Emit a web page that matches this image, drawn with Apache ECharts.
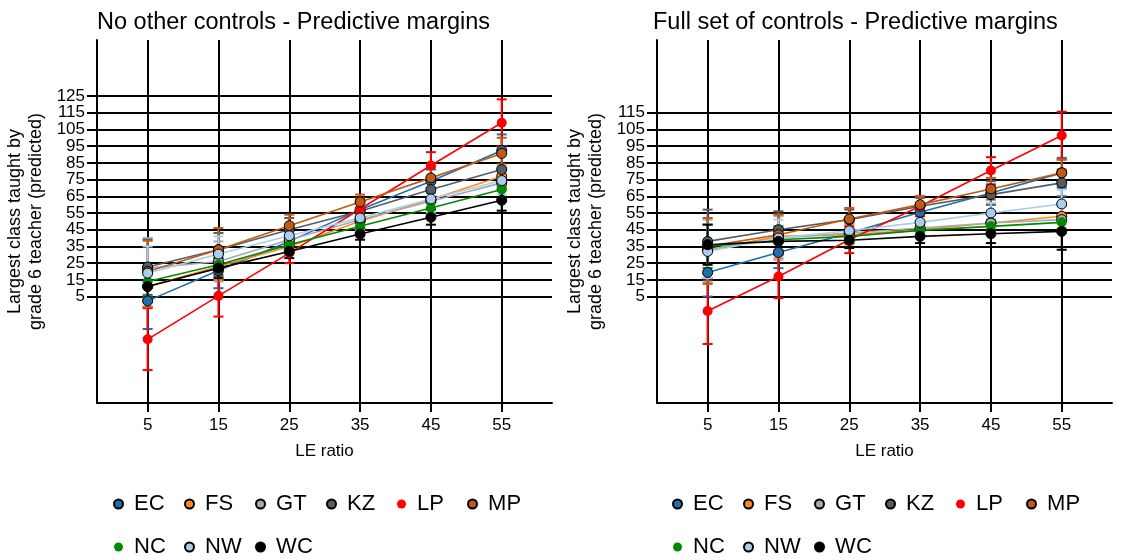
<!DOCTYPE html>
<html>
<head>
<meta charset="utf-8">
<script src="https://cdn.jsdelivr.net/npm/echarts@6/dist/echarts.min.js"></script>
<style>
  html, body { margin: 0; padding: 0; background: #fff; }
  #chart { width: 1123px; height: 560px; }
</style>
</head>
<body>
<div id="chart"></div>
<script>
// LE ratio values on the x axis
const leRatio = [5, 15, 25, 35, 45, 55];
const regions = ['EC', 'FS', 'GT', 'KZ', 'LP', 'MP', 'NC', 'NW', 'WC'];
const regionColors = ['#1f6fae', '#ff8a1c', '#a3abb3', '#545c66', '#ff0000', '#c25a12', '#008a00', '#a9cdeb', '#000000'];
const xTicks = [5, 15, 25, 35, 45, 55];
const yTicksLeft = [5, 15, 25, 35, 45, 55, 65, 75, 85, 95, 105, 115, 125];
const yTicksRight = [5, 15, 25, 35, 45, 55, 65, 75, 85, 95, 105, 115];

// No other controls: predicted margin, lower and upper CI (one row per region)
const noCtrlMean = [
  [2.4, 20.6, 38, 57, 74, 92.4],
  [11, 23, 35, 50, 63, 77],
  [22, 26, 39, 51, 62, 73],
  [22.7, 33, 45, 56, 69, 81],
  [-20.6, 5.4, 31, 57.4, 83.4, 109],
  [20, 33, 47.4, 61.6, 76, 90.6],
  [14, 24, 36, 47, 58, 69],
  [19, 30.4, 41.4, 52, 63.4, 74.4],
  [11, 22, 32, 42.4, 52.4, 62.6]
];
const noCtrlLo = [
  [-14.4, 10, 32, 52, 67, 82],
  [-1, 15, 30, 46, 58, 70],
  [4, 14, 31, 45, 55, 63],
  [6, 23, 38, 50, 62, 71],
  [-39, -7, 25, 51, 75, 95],
  [-1.4, 21, 41, 57, 70, 81],
  [5, 17, 31, 43, 54, 63],
  [3, 20, 35, 47, 58, 66],
  [2, 16, 28, 39, 48, 56.4]
];
const noCtrlHi = [
  [19, 31, 44, 62, 81, 102],
  [23, 31, 40, 54, 68, 84],
  [40, 38, 47, 57, 69, 83],
  [39, 43, 52, 62, 76, 91],
  [-2, 18, 37, 64, 91.4, 123],
  [38.4, 46, 54, 66, 82, 100],
  [23, 31, 41, 51, 62, 75],
  [35, 41, 48, 57, 69, 83],
  [20, 28, 36, 46, 57, 69]
];

// Full set of controls
const fullMean = [
  [19.4, 31.4, 43, 55.4, 67, 79],
  [33, 41, 42, 45, 49, 53],
  [33, 40, 43, 46, 49, 51],
  [38, 45, 51, 59, 66, 73],
  [-3.6, 17, 39, 59, 80.4, 101.4],
  [35, 42, 51.4, 60, 69.4, 79],
  [35, 39, 41, 44.6, 47, 49.4],
  [32, 40, 44.4, 49.4, 55, 60.4],
  [36, 38, 38.7, 41, 42.6, 44]
];
const fullLo = [
  [5, 22, 37, 50, 60, 70],
  [13, 28, 36, 41, 44, 46],
  [14, 27, 37, 42, 43, 43],
  [19, 33, 45, 54, 60, 65],
  [-23.4, 4, 31, 53, 72, 87],
  [12.6, 30, 45, 55, 63, 71],
  [22, 31, 37, 41, 43, 44],
  [16, 29, 39, 45, 49, 52],
  [24, 31, 34, 37, 37, 33]
];
const fullHi = [
  [34, 41, 49, 61, 74, 88],
  [52, 54, 48, 49, 54, 60],
  [51, 53, 49, 50, 55, 59],
  [57, 56, 57, 64, 72, 81],
  [16, 30, 47, 65, 88.4, 115.6],
  [52, 54, 58, 65, 76, 87],
  [48, 47, 45, 48, 51, 55],
  [48, 51, 50, 54, 61, 69],
  [48, 45, 43, 45, 48, 55]
];

const FONT = '"Liberation Sans", Arial, sans-serif';
const noBorder = ['LP', 'NC'];
const Y_MIN = -58.7, Y_MAX = 158.5;

function errorBar(params, api) {
    let x = api.value(0);
    let lo = api.coord([x, api.value(1)]);
    let hi = api.coord([x, api.value(2)]);
    let style = { stroke: api.visual('color'), lineWidth: 2 };
    let cap = 5;
    return {
        type: 'group',
        children: [
            { type: 'line', shape: { x1: lo[0], y1: lo[1], x2: hi[0], y2: hi[1] }, style: style },
            { type: 'line', shape: { x1: lo[0] - cap, y1: lo[1], x2: lo[0] + cap, y2: lo[1] }, style: style },
            { type: 'line', shape: { x1: hi[0] - cap, y1: hi[1], x2: hi[0] + cap, y2: hi[1] }, style: style }
        ]
    };
}

function buildSeries(mean, lo, hi, axisIdx) {
    let out = [];
    regions.forEach(function (name, i) {
        let bars = leRatio.map(function (x, j) { return [x, lo[i][j], hi[i][j]]; });
        out.push({
            name: name + ' CI ' + axisIdx,
            type: 'custom',
            xAxisIndex: axisIdx,
            yAxisIndex: axisIdx,
            renderItem: errorBar,
            itemStyle: { color: regionColors[i] },
            encode: { x: 0, y: [1, 2] },
            data: bars,
            z: 1,
            silent: true
        });
    });
    regions.forEach(function (name, i) {
        let pts = leRatio.map(function (x, j) { return [x, mean[i][j]]; });
        let border = noBorder.indexOf(name) >= 0;
        out.push({
            name: name,
            type: 'line',
            xAxisIndex: axisIdx,
            yAxisIndex: axisIdx,
            data: pts,
            symbol: 'circle',
            symbolSize: 10,
            showSymbol: true,
            lineStyle: { color: regionColors[i], width: 1.6 },
            itemStyle: {
                color: regionColors[i],
                borderColor: border ? regionColors[i] : '#000',
                borderWidth: border ? 0 : 1
            },
            z: 2,
            animation: false
        });
    });
    return out;
}

function xAxis(idx) {
    return {
        type: 'value', gridIndex: idx, min: -2.15, max: 62.1,
        name: 'LE ratio', nameLocation: 'middle', nameGap: 40,
        nameTextStyle: { fontFamily: FONT, fontSize: 17, color: '#000' },
        axisLine: { show: true, onZero: false, lineStyle: { color: '#000', width: 2 } },
        axisTick: { show: true, length: 9, customValues: xTicks, lineStyle: { color: '#000', width: 2 } },
        axisLabel: { customValues: xTicks, fontFamily: FONT, fontSize: 17, color: '#000', margin: 14 },
        splitLine: { show: true, lineStyle: { color: '#000', width: 2 } }
    };
}

function yAxis(idx, ticks) {
    // blank end labels keep the real first/last labels away from the min/max auto-hide
    let labelVals = [Y_MIN + 1].concat(ticks, [Y_MAX - 1]);
    return {
        type: 'value', gridIndex: idx, min: Y_MIN, max: Y_MAX,
        name: 'Largest class taught by\ngrade 6 teacher (predicted)',
        nameLocation: 'middle', nameGap: 50, nameRotate: 90,
        nameTextStyle: { fontFamily: FONT, fontSize: 18, color: '#000', lineHeight: 21, align: 'center' },
        axisLine: { show: true, onZero: false, lineStyle: { color: '#000', width: 2 } },
        axisTick: { show: true, length: 10, customValues: ticks, lineStyle: { color: '#000', width: 2 } },
        axisLabel: {
            customValues: labelVals, fontFamily: FONT, fontSize: 17, color: '#000', margin: 12,
            formatter: function (v) { return ticks.indexOf(v) >= 0 ? String(v) : ''; }
        },
        splitLine: { show: true, lineStyle: { color: '#000', width: 2 } }
    };
}

function legend(left) {
    return {
        data: regions,
        left: left, top: 484, width: 415,
        orient: 'horizontal',
        icon: 'circle',
        itemWidth: 9, itemHeight: 9,
        itemGap: 13,
        formatter: function (name) { return ' ' + name; },
        textStyle: { fontFamily: FONT, fontSize: 22, color: '#000', width: 43, lineHeight: 30 },
        selectedMode: false
    };
}

let chart = echarts.init(document.getElementById('chart'));
let option = {
    backgroundColor: '#fff',
    animation: false,
    title: [
        { text: 'No other controls - Predictive margins', left: 92, top: 6,
          textStyle: { fontFamily: FONT, fontSize: 23.5, fontWeight: 'normal', color: '#000' } },
        { text: 'Full set of controls - Predictive margins', left: 648, top: 6,
          textStyle: { fontFamily: FONT, fontSize: 23.5, fontWeight: 'normal', color: '#000' } }
    ],
    legend: [legend(108), legend(667)],
    grid: [
        { left: 97, top: 40, width: 455, height: 363 },
        { left: 657, top: 40, width: 455, height: 363 }
    ],
    xAxis: [xAxis(0), xAxis(1)],
    yAxis: [yAxis(0, yTicksLeft), yAxis(1, yTicksRight)],
    series: buildSeries(noCtrlMean, noCtrlLo, noCtrlHi, 0).concat(buildSeries(fullMean, fullLo, fullHi, 1))
};
chart.setOption(option);
</script>
</body>
</html>
